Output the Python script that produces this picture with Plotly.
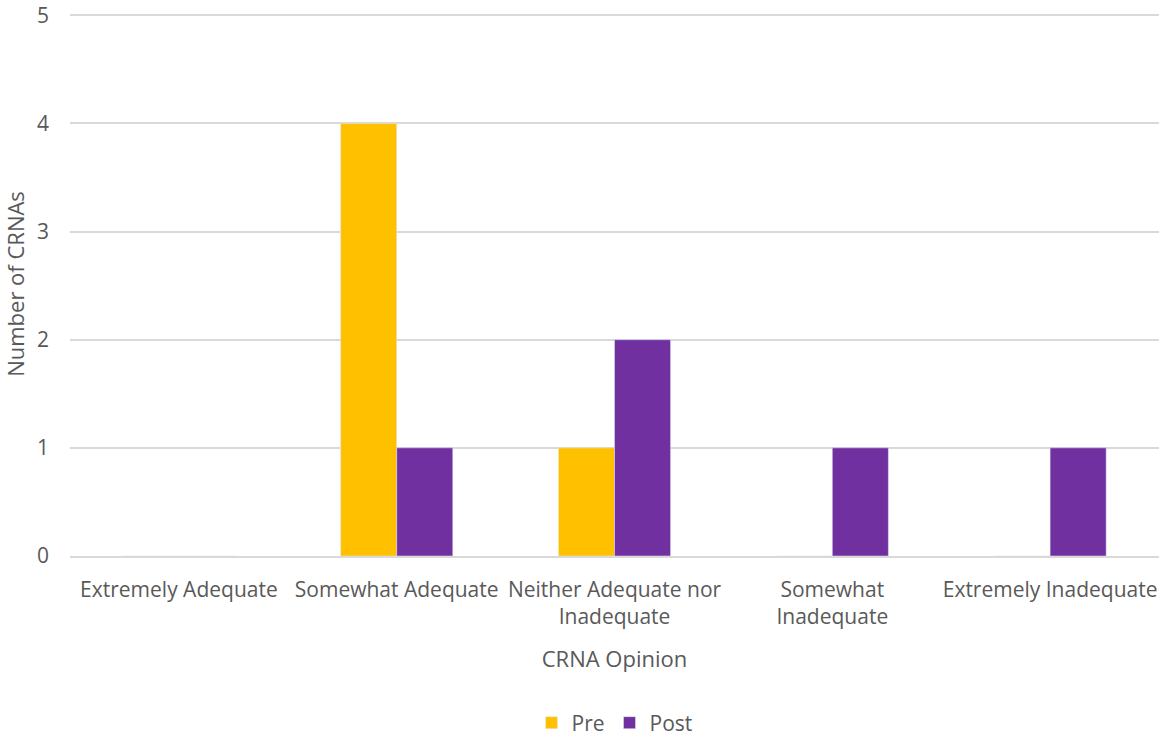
import plotly.graph_objects as go

categories = ["Extremely Adequate", "Somewhat Adequate", "Neither Adequate nor<br>Inadequate",
              "Somewhat<br>Inadequate", "Extremely Inadequate"]
pre_values = [0, 4, 1, 0, 0]
post_values = [0, 1, 2, 1, 1]
y_ticks = [0, 1, 2, 3, 4, 5]

FONT = "Open Sans"
GREY = "#595959"

fig = go.Figure()
fig.add_trace(go.Bar(name="Pre", x=categories, y=pre_values, marker_color="#FFC000"))
fig.add_trace(go.Bar(name="Post", x=categories, y=post_values, marker_color="#7030A0"))

fig.update_layout(
    width=1159, height=738,
    margin=dict(l=70, r=0, t=12, b=182, autoexpand=False),
    paper_bgcolor="white", plot_bgcolor="white",
    barmode="group", bargap=0.485, bargroupgap=0,
    font=dict(family=FONT, color=GREY, size=21),
    showlegend=True,
    legend=dict(orientation="h", x=0.5, xanchor="center", xref="paper",
                y=-0.307, yanchor="middle", font=dict(size=21, color=GREY),
                itemwidth=30, traceorder="normal"),
)
fig.update_xaxes(
    showgrid=False, showline=True, linecolor="#D9D9D9", linewidth=1.5,
    automargin=False,
    ticks="", tickfont=dict(size=21, color=GREY), ticklabelstandoff=14,
    title=dict(text="CRNA Opinion", font=dict(size=22, color=GREY), standoff=22),
)
fig.update_yaxes(
    range=[0, 5.03], tickvals=y_ticks, showgrid=True, gridcolor="#D9D9D9", gridwidth=1.5,
    automargin=False, ticklabeloverflow="allow",
    zeroline=False, showline=False, ticks="", tickfont=dict(size=21, color=GREY),
    ticklabelstandoff=20,
    title=dict(text="Number of CRNAs", font=dict(size=22, color=GREY), standoff=14),
)

fig.write_html("out.html")
